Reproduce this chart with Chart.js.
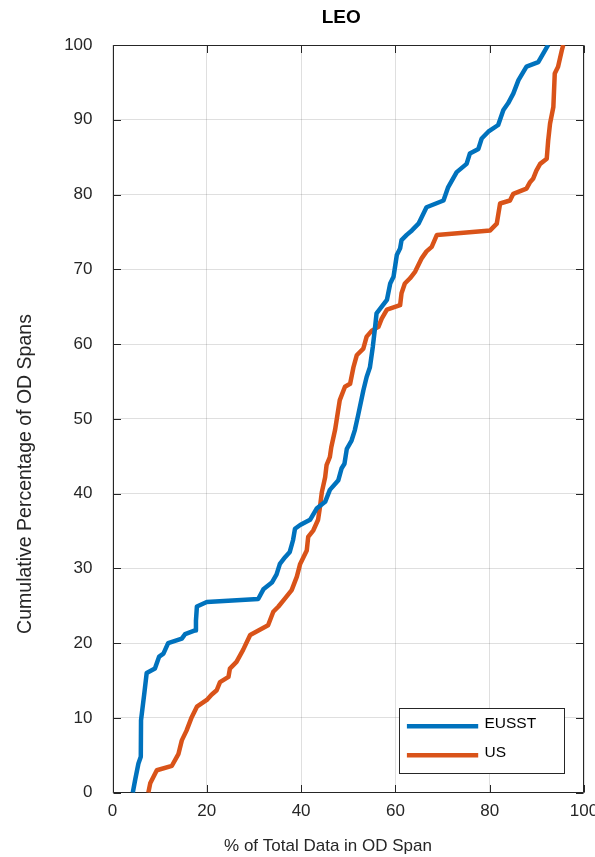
<!DOCTYPE html>
<html>
<head>
<meta charset="utf-8">
<script src="https://cdn.jsdelivr.net/npm/chart.js@4"></script>
<style>
  html, body { margin: 0; padding: 0; background: #fff; }
  #wrap { width: 595px; height: 857px; }
</style>
</head>
<body>
<div id="wrap"><canvas id="leoChart" width="595" height="857"></canvas></div>
<script>
// values, x = % of data in OD span, y = cumulative %
const eusstX = [4.3, 4.8, 5.5, 6.0, 6.05, 6.75, 7.25, 9.0, 9.9, 10.8, 11.8, 14.7, 15.4, 17.5, 17.7,
    17.9, 20.0, 30.9, 32.0, 33.8, 34.8, 35.5, 36.6, 37.6, 38.3, 38.7, 39.8, 41.9, 43.3, 45.1,
    46.1, 47.9, 48.6, 49.2, 49.7, 50.7, 51.4, 52.1, 53.2, 53.9, 54.6, 55.2, 55.7, 56.0, 57.1,
    58.2, 58.9, 59.6, 60.3, 61.0, 61.3, 62.4, 63.5, 64.9, 66.6, 70.2, 71.2, 73.0, 75.1, 75.8,
    77.6, 78.3, 79.7, 81.8, 82.9, 83.9, 85.0, 86.1, 87.8, 90.3, 91.4, 92.4];
const eusstY = [0, 1.7, 3.9, 4.8, 9.7, 13.3, 16.0, 16.6, 18.2, 18.6, 20.0, 20.6, 21.2, 21.7, 23,
    24.9, 25.5, 25.9, 27.2, 28.1, 29.2, 30.6, 31.5, 32.2, 33.8, 35.3, 35.8, 36.5, 38.0, 38.9,
    40.5, 41.8, 43.4, 44.0, 46.0, 47.1, 48.5, 50.5, 53.8, 55.6, 56.9, 59.6, 62.3, 64.1, 65.0,
    65.9, 68.1, 69.0, 71.9, 72.8, 73.9, 74.6, 75.2, 76.1, 78.3, 79.2, 81.0, 83.0, 84.1, 85.5,
    86.1, 87.5, 88.4, 89.3, 91.3, 92.2, 93.5, 95.3, 97.1, 97.7, 98.9, 100];

const usX = [7.6, 8.0, 9.4, 12.6, 14.0, 14.7, 15.7, 16.8, 17.9, 20.0, 21.0, 22.1, 22.8, 24.6, 24.9,
    26.3, 27.7, 29.2, 33.0, 34.1, 35.2, 36.6, 38.0, 39.1, 39.8, 40.5, 41.2, 41.5, 42.6, 43.6,
    44.0, 44.4, 45.1, 45.4, 46.1, 46.4, 47.2, 48.2, 49.3, 50.4, 51.1, 51.8, 53.2, 53.9, 55.0,
    56.4, 57.1, 58.2, 61.0, 61.3, 62.0, 63.1, 64.2, 65.6, 66.6, 67.7, 68.8, 80.1, 81.5, 82.2,
    84.3, 85.0, 87.8, 88.5, 89.2, 89.9, 90.7, 92.1, 92.4, 92.8, 93.5, 93.8, 94.5, 95.3, 95.6];
const usY = [0, 1.25, 3.0, 3.6, 5.2, 7.0, 8.3, 10.1, 11.5, 12.4, 13.1, 13.7, 14.8, 15.5, 16.6,
    17.5, 19.1, 21.1, 22.4, 24.2, 24.9, 26.0, 27.1, 28.9, 30.6, 31.5, 32.4, 34.2, 35.1, 36.5,
    38.2, 40.2, 42.2, 43.8, 44.9, 46.2, 48.5, 52.5, 54.3, 54.7, 56.9, 58.5, 59.4, 61.0, 61.8,
    62.3, 63.4, 64.6, 65.2, 66.8, 68.1, 68.8, 69.7, 71.5, 72.4, 73.0, 74.6, 75.2, 76.1, 78.8,
    79.2, 80.1, 80.8, 81.6, 82.1, 83.2, 84.1, 84.8, 87.2, 89.5, 91.7, 96.2, 97.1, 99.3, 100];

const seriesNames = ['EUSST', 'US'];
const seriesColors = ['#0072BD', '#D95319'];
const titleText = 'LEO';
const xLabel = '% of Total Data in OD Span';
const yLabel = 'Cumulative Percentage of OD Spans';

const FONT = "'Liberation Sans', Arial, Helvetica, sans-serif";
const AXIS = '#262626';

function toPoints(xs, ys) {
    return xs.map((x, i) => ({x: x, y: ys[i]}));
}

// MATLAB style box with inward ticks, title, axis labels and the legend inside the axes
const matlabBox = {
    id: 'matlabBox',
    beforeDatasetsDraw(chart) {
        const {ctx, chartArea: a, scales} = chart;
        ctx.save();
        ctx.strokeStyle = AXIS;
        ctx.lineWidth = 1;
        ctx.beginPath();
        const L = Math.round(a.left) + 0.5, R = Math.round(a.right) - 0.5;
        const T = Math.round(a.top) + 0.5, B = Math.round(a.bottom) - 0.5;
        ctx.rect(L, T, R - L, B - T);
        const len = 7.5;
        scales.x.ticks.forEach(t => {
            const px = Math.round(scales.x.getPixelForValue(t.value)) + 0.5;
            ctx.moveTo(px, B); ctx.lineTo(px, B - len);
            ctx.moveTo(px, T); ctx.lineTo(px, T + len);
        });
        scales.y.ticks.forEach(t => {
            const py = Math.round(scales.y.getPixelForValue(t.value)) + 0.5;
            ctx.moveTo(L, py); ctx.lineTo(L + len, py);
            ctx.moveTo(R, py); ctx.lineTo(R - len, py);
        });
        ctx.stroke();
        ctx.restore();
    },
    afterDraw(chart) {
        const {ctx, chartArea: a} = chart;
        ctx.save();
        // title
        ctx.fillStyle = '#000';
        ctx.font = 'bold 19px ' + FONT;
        ctx.textAlign = 'center';
        ctx.textBaseline = 'middle';
        ctx.fillText(titleText, (a.left + a.right) / 2 - 7, 17.5);

        // axis labels
        ctx.fillStyle = AXIS;
        ctx.font = '17px ' + FONT;
        ctx.fillText(xLabel, 328, 846);
        ctx.save();
        ctx.translate(25.5, 474);
        ctx.rotate(-Math.PI / 2);
        ctx.font = '19.5px ' + FONT;
        ctx.fillText(yLabel, 0, 0);
        ctx.restore();

        // legend
        const w = 165, h = 65;
        const bx = Math.round(a.right - 19.7 - w) + 0.5;
        const by = Math.round(a.bottom - 19.4 - h) + 0.5;
        ctx.fillStyle = '#fff';
        ctx.fillRect(bx, by, w, h);
        ctx.strokeStyle = AXIS;
        ctx.lineWidth = 1;
        ctx.strokeRect(bx, by, w, h);
        const rows = [17.7, 46.7];
        chart.data.datasets.forEach((ds, i) => {
            const ly = by + rows[i];
            ctx.strokeStyle = ds.borderColor;
            ctx.lineWidth = 4.5;
            ctx.beginPath();
            ctx.moveTo(bx + 7.4, ly);
            ctx.lineTo(bx + 78.7, ly);
            ctx.stroke();
            ctx.fillStyle = '#000';
            ctx.font = '15.5px ' + FONT;
            ctx.textAlign = 'left';
            ctx.textBaseline = 'middle';
            ctx.fillText(ds.label, bx + 85, ly - 2.5);
        });
        ctx.restore();
    }
};

const datasets = [
    {label: seriesNames[0], data: toPoints(eusstX, eusstY)},
    {label: seriesNames[1], data: toPoints(usX, usY)}
].map((d, i) => Object.assign(d, {
    borderColor: seriesColors[i],
    backgroundColor: seriesColors[i],
    borderWidth: 4.5,
    pointRadius: 0,
    showLine: true,
    tension: 0,
    borderJoinStyle: 'round',
    clip: 0
}));

new Chart(document.getElementById('leoChart').getContext('2d'), {
    type: 'scatter',
    data: {datasets: datasets},
    plugins: [matlabBox],
    options: {
        responsive: false,
        animation: false,
        events: [],
        layout: {padding: {left: 0, right: 11, top: 45, bottom: 0}},
        plugins: {
            legend: {display: false},
            title: {display: false},
            tooltip: {enabled: false}
        },
        scales: {
            x: {
                type: 'linear',
                min: 0,
                max: 100,
                afterFit(s) { s.height = 64.3; s.paddingLeft = 0; s.paddingRight = 0; },
                ticks: {stepSize: 20, padding: 8, color: AXIS, font: {family: FONT, size: 17}},
                grid: {color: 'rgba(38,38,38,0.15)', drawTicks: false},
                border: {display: false}
            },
            y: {
                type: 'linear',
                min: 0,
                max: 100,
                afterFit(s) { s.width = 112.5; },
                ticks: {stepSize: 10, padding: 20, color: AXIS, font: {family: FONT, size: 17}},
                grid: {color: 'rgba(38,38,38,0.15)', drawTicks: false},
                border: {display: false}
            }
        }
    }
});
</script>
</body>
</html>
